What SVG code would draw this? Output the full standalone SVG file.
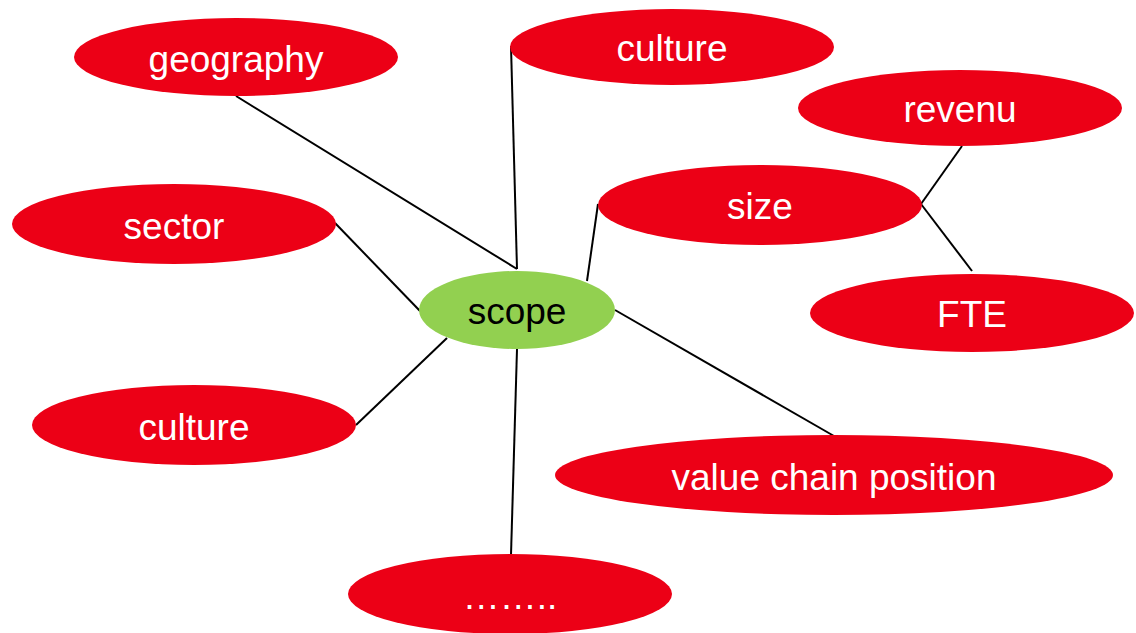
<svg xmlns="http://www.w3.org/2000/svg" width="1136" height="633" viewBox="0 0 1136 633">
<style>
.r{fill:#EC0016}
.g{fill:#92D050}
.t{font-family:"Liberation Sans",Arial,sans-serif;font-size:37px;fill:#fff;text-anchor:middle}
.k{fill:#000}
.c line{stroke:#000;stroke-width:2}
</style>
<rect width="1136" height="633" fill="#fff"/>
<g id="connectors" class="c">
<line x1="236" y1="96" x2="517" y2="269"/>
<line x1="511" y1="46" x2="517" y2="269"/>
<line x1="335" y1="223" x2="420" y2="311"/>
<line x1="356" y1="425" x2="447" y2="338"/>
<line x1="598" y1="204" x2="587" y2="281"/>
<line x1="615" y1="310" x2="834" y2="436"/>
<line x1="517" y1="349" x2="511" y2="555"/>
<line x1="962" y1="146" x2="921" y2="204"/>
<line x1="921" y1="204" x2="972" y2="271"/>
</g>
<g id="geography"><ellipse class="r" cx="236" cy="57" rx="162" ry="39"/><text class="t" x="236" y="72">geography</text></g>
<g id="culture-top"><ellipse class="r" cx="672" cy="47" rx="162" ry="38"/><text class="t" x="672" y="61">culture</text></g>
<g id="revenu"><ellipse class="r" cx="960" cy="108" rx="162" ry="38"/><text class="t" x="960" y="122">revenu</text></g>
<g id="size"><ellipse class="r" cx="760" cy="205" rx="162" ry="40"/><text class="t" x="760" y="219">size</text></g>
<g id="sector"><ellipse class="r" cx="174" cy="224" rx="162" ry="40"/><text class="t" x="174" y="239">sector</text></g>
<g id="scope"><ellipse class="g" cx="517" cy="310" rx="98" ry="39"/><text class="t k" x="517" y="324">scope</text></g>
<g id="fte"><ellipse class="r" cx="972" cy="313" rx="162" ry="39"/><text class="t" x="972" y="327">FTE</text></g>
<g id="culture-left"><ellipse class="r" cx="194" cy="425" rx="162" ry="40"/><text class="t" x="194" y="440">culture</text></g>
<g id="value-chain"><ellipse class="r" cx="834" cy="475" rx="279" ry="40"/><text class="t" x="834" y="490">value chain position</text></g>
<g id="more"><ellipse class="r" cx="510" cy="594" rx="162" ry="40"/><text class="t" x="510" y="609">……..</text></g>
</svg>
